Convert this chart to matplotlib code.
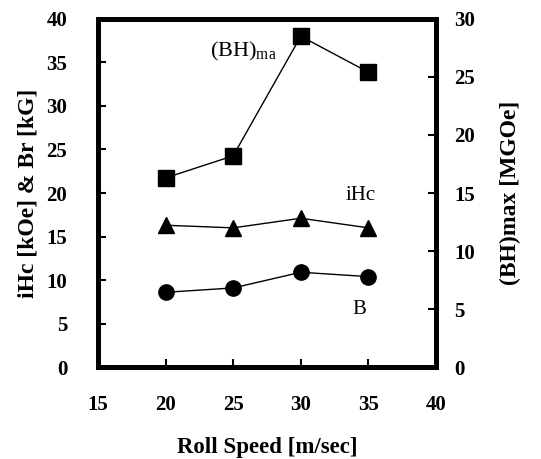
import matplotlib.pyplot as plt

plt.rcParams['font.family'] = ['Liberation Serif', 'DejaVu Serif']

# Data
speed = [20, 25, 30, 35]
bhmax = [16.3, 18.2, 28.5, 25.4]   # right axis, MGOe
ihc = [16.3, 16.0, 17.1, 16.0]     # left axis, kOe
br = [8.6, 9.1, 10.9, 10.4]        # left axis, kG

fig = plt.figure(figsize=(5.41, 4.59), dpi=100)
ax = fig.add_axes([0.181, 0.200, 0.625, 0.759])
ax2 = ax.twinx()

ax.plot(speed, ihc, '-^', color='black', lw=1, markersize=11)
ax.plot(speed, br, '-o', color='black', lw=1, markersize=11)
ax2.plot(speed, bhmax, '-s', color='black', lw=1, markersize=11)

ax.set_xlim(15, 40)
ax.set_ylim(0, 40)
ax2.set_ylim(0, 30)
ax.set_xticks([15, 20, 25, 30, 35, 40])
ax.set_yticks(range(0, 41, 5))
ax2.set_yticks(range(0, 31, 5))

for a in (ax, ax2):
    for s in a.spines.values():
        s.set_linewidth(3.5)
    a.tick_params(direction='in', length=6, width=1.5, labelsize=15)
    for lab in a.get_xticklabels() + a.get_yticklabels():
        lab.set_fontweight('bold')
ax.tick_params(axis='x', pad=20)
ax.tick_params(axis='y', pad=22)
ax2.tick_params(axis='y', pad=13)

ax.set_xlabel('Roll Speed [m/sec]', fontsize=16.5, fontweight='bold', labelpad=16)
ax.set_ylabel('iHc [kOe] & Br [kG]', fontsize=17, fontweight='bold', labelpad=6)
ax2.set_ylabel('(BH)max [MGOe]', fontsize=17, fontweight='bold', labelpad=18)

ax.text(23.3, 36.3, '(BH)$_{\\mathregular{ma}}$', fontsize=16, va='center', ha='left')
ax.text(33.3, 19.7, 'iHc', fontsize=15, va='center', ha='left')
ax.text(33.8, 6.6, 'B', fontsize=15, va='center', ha='left')

fig.savefig('out.png', dpi=100)
